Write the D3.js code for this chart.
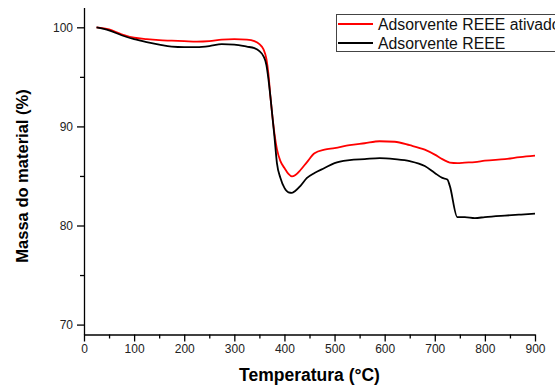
<!DOCTYPE html>
<html>
<head>
<meta charset="utf-8">
<script src="https://cdn.jsdelivr.net/npm/d3@7"></script>
<style>
body{margin:0;background:#fff;}
svg{display:block;font-family:Arial,"Liberation Sans",sans-serif;}
</style>
</head>
<body>
<div id="chart"></div>
<script>
// temperatura (°C) e massa (%)
var temps=[25,50,75,100,125,150,175,200,225,250,275,300,325,340,350,358,364,368,372,376,380,385,392,400,408,415,422,432,445,460,480,500,530,560,590,620,650,680,700,715,725,730,745,760,780,800,840,870,900];
var ativado=[100.0,99.8,99.3,98.95,98.8,98.7,98.65,98.6,98.55,98.6,98.75,98.8,98.75,98.6,98.3,97.8,96.8,95.3,93.0,91.0,89.3,87.7,86.5,85.8,85.2,84.95,85.1,85.6,86.4,87.3,87.65,87.8,88.1,88.3,88.5,88.45,88.1,87.65,87.15,86.7,86.45,86.35,86.3,86.35,86.4,86.55,86.7,86.9,87.05];
var normal=[100.0,99.7,99.2,98.8,98.5,98.25,98.05,98.0,98.0,98.1,98.3,98.25,98.05,97.9,97.6,97.1,96.2,94.8,93.0,91.0,89.0,86.3,84.8,83.8,83.35,83.3,83.5,84.0,84.8,85.3,85.8,86.3,86.6,86.7,86.8,86.7,86.5,86.0,85.3,84.8,84.65,84.0,80.85,80.85,80.75,80.85,81.0,81.1,81.2];
var seriesNames=["Adsorvente REEE ativado","Adsorvente REEE"];
var seriesColors=["#ff0000","#000000"];
var xTicks=[0,100,200,300,400,500,600,700,800,900];
var yTicks=[70,80,90,100];

var width=555,height=385;
var svg=d3.select("#chart").append("svg")
	.attr("width",width)
	.attr("height",height);

var x=d3.scaleLinear().domain([0,900]).range([84,535]);
var y=d3.scaleLinear().domain([69,102]).range([334.5,7.5]);

// eixo x
var xMinor=d3.range(50,900,100);
svg.append("g")
	.attr("transform","translate(0,334.5)")
	.call(d3.axisBottom(x).tickValues(xMinor).tickSize(4).tickFormat(""))
	.call(function(g){g.select(".domain").remove();});
var gx=svg.append("g")
	.attr("transform","translate(0,334.5)")
	.call(d3.axisBottom(x).tickValues(xTicks).tickSize(7).tickSizeOuter(0).tickPadding(3));
gx.selectAll("text").attr("font-size",12).attr("fill","#222").attr("font-family","Arial, Liberation Sans, sans-serif");

// eixo y
var yMinor=[75,85,95];
svg.append("g")
	.attr("transform","translate(84,0)")
	.call(d3.axisLeft(y).tickValues(yMinor).tickSize(4).tickFormat(""))
	.call(function(g){g.select(".domain").remove();});
var gy=svg.append("g")
	.attr("transform","translate(84,0)")
	.call(d3.axisLeft(y).tickValues(yTicks).tickSize(7).tickSizeOuter(0).tickPadding(4));
gy.selectAll("text").attr("font-size",12).attr("fill","#222").attr("font-family","Arial, Liberation Sans, sans-serif");

svg.selectAll(".domain,.tick line").attr("stroke","#000").attr("stroke-width",1.3);

// curvas
var line=d3.line()
	.x(function(d){return x(d[0]);})
	.y(function(d){return y(d[1]);})
	.curve(d3.curveMonotoneX);

[ativado,normal].forEach(function(vals,i){
	svg.append("path")
		.datum(d3.zip(temps,vals))
		.attr("d",line)
		.attr("fill","none")
		.attr("stroke",seriesColors[i])
		.attr("stroke-width",1.8);
});

// titulos
svg.append("text")
	.attr("x",(x(0)+x(900))/2)
	.attr("y",381)
	.attr("text-anchor","middle")
	.attr("font-size",17.5)
	.attr("font-weight","bold")
	.text("Temperatura (°C)");

svg.append("text")
	.attr("transform","translate(28,176) rotate(-90)")
	.attr("text-anchor","middle")
	.attr("font-size",16.5)
	.attr("font-weight","bold")
	.text("Massa do material (%)");

// legenda
var leg=svg.append("g");
leg.append("rect")
	.attr("x",336.5).attr("y",14.5)
	.attr("width",240).attr("height",37)
	.attr("fill","#fff")
	.attr("stroke","#444")
	.attr("stroke-width",1);
seriesNames.forEach(function(name,i){
	var yy=24+i*19;
	leg.append("line")
		.attr("x1",338).attr("x2",373)
		.attr("y1",yy).attr("y2",yy)
		.attr("stroke",seriesColors[i])
		.attr("stroke-width",1.8);
	leg.append("text")
		.attr("x",378).attr("y",yy+5.5)
		.attr("font-size",15.8)
		.attr("fill","#111")
		.text(name);
});
</script>
</body>
</html>
